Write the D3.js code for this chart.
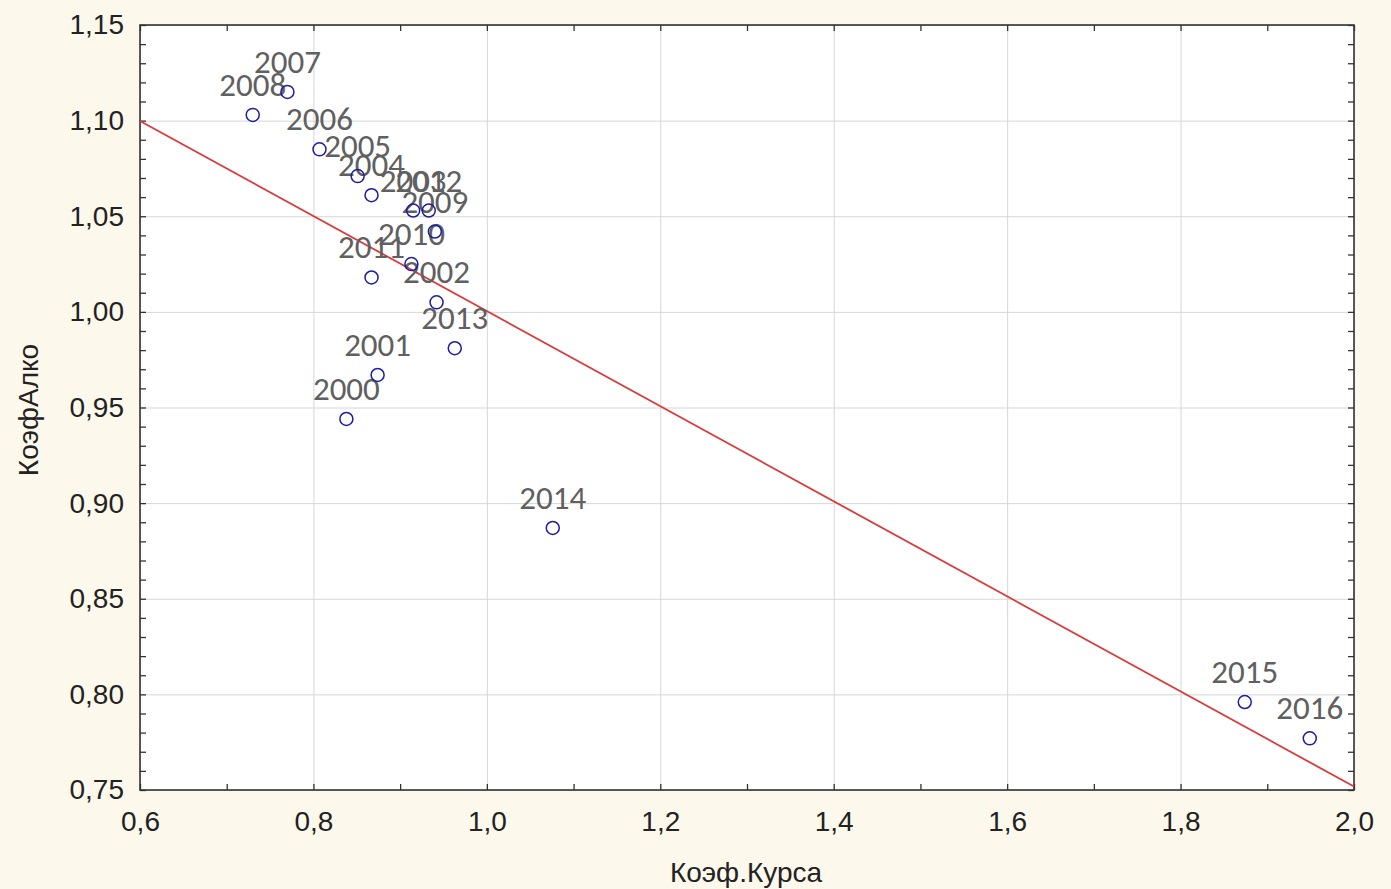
<!DOCTYPE html>
<html>
<head>
<meta charset="utf-8">
<script src="https://cdn.jsdelivr.net/npm/d3@7"></script>
<style>
	body { margin: 0; background: #fdf8ec; }
	.axis text { font-family: "Liberation Sans", Arial, sans-serif; font-size: 28px; fill: #222; }
</style>
</head>
<body>
<script>
			var w = 1391;
			var h = 889;
			var plotLeft = 140, plotRight = 1354, plotTop = 25, plotBottom = 790;

			//Data
			var years = ["2000","2001","2002","2003","2004","2005","2006","2007","2008",
				"2009","2010","2011","2012","2013","2014","2015","2016"];
			var koefKursa = [0.838, 0.874, 0.942, 0.915, 0.867, 0.851, 0.807, 0.770, 0.730,
				0.940, 0.913, 0.867, 0.933, 0.963, 1.076, 1.874, 1.949];
			var koefAlko = [0.944, 0.967, 1.005, 1.053, 1.061, 1.071, 1.085, 1.115, 1.103,
				1.042, 1.025, 1.018, 1.053, 0.981, 0.887, 0.796, 0.777];

			//Fitted line
			var fitIntercept = 1.249;
			var fitSlope = -0.2486;

			var xTickValues = [0.6, 0.8, 1.0, 1.2, 1.4, 1.6, 1.8, 2.0];
			var yTickValues = [0.75, 0.80, 0.85, 0.90, 0.95, 1.00, 1.05, 1.10, 1.15];
			var xMinorTicks = d3.range(6, 21).map(function(d) { return d / 10; });
			var yMinorTicks = d3.range(75, 116).map(function(d) { return d / 100; });

			var ru = d3.formatLocale({ decimal: ",", thousands: " ", grouping: [3], currency: ["", ""] });
			var fmtX = ru.format(".1f");
			var fmtY = ru.format(".2f");

			var xScale = d3.scaleLinear().domain([0.6, 2.0]).range([plotLeft, plotRight]);
			var yScale = d3.scaleLinear().domain([0.75, 1.15]).range([plotBottom, plotTop]);

			var svg = d3.select("body")
						.append("svg")
						.attr("width", w)
						.attr("height", h);

			svg.append("rect")
				.attr("width", w)
				.attr("height", h)
				.attr("fill", "#fdf8ec");

			//plot area
			svg.append("rect")
				.attr("x", plotLeft)
				.attr("y", plotTop)
				.attr("width", plotRight - plotLeft)
				.attr("height", plotBottom - plotTop)
				.attr("fill", "#ffffff");

			//Grid
			svg.append("g")
				.attr("class", "grid")
				.attr("transform", "translate(0," + plotBottom + ")")
				.call(d3.axisBottom(xScale).tickValues(xTickValues).tickSize(-(plotBottom - plotTop)).tickFormat(""));
			svg.append("g")
				.attr("class", "grid")
				.attr("transform", "translate(" + plotLeft + ",0)")
				.call(d3.axisLeft(yScale).tickValues(yTickValues).tickSize(-(plotRight - plotLeft)).tickFormat(""));
			svg.selectAll(".grid .domain").remove();
			svg.selectAll(".grid line").attr("stroke", "#d6d6d6").attr("stroke-width", 1);

			//inward ticks on all four sides
			var tickLen = 6;
			svg.append("g").attr("class", "ticks").attr("transform", "translate(0," + plotBottom + ")")
				.call(d3.axisBottom(xScale).tickValues(xMinorTicks).tickSize(-tickLen).tickFormat(""));
			svg.append("g").attr("class", "ticks").attr("transform", "translate(0," + plotTop + ")")
				.call(d3.axisTop(xScale).tickValues(xMinorTicks).tickSize(-tickLen).tickFormat(""));
			svg.append("g").attr("class", "ticks").attr("transform", "translate(" + plotLeft + ",0)")
				.call(d3.axisLeft(yScale).tickValues(yMinorTicks).tickSize(-tickLen).tickFormat(""));
			svg.append("g").attr("class", "ticks").attr("transform", "translate(" + plotRight + ",0)")
				.call(d3.axisRight(yScale).tickValues(yMinorTicks).tickSize(-tickLen).tickFormat(""));
			svg.selectAll(".ticks .domain").remove();
			svg.selectAll(".ticks line").attr("stroke", "#333").attr("stroke-width", 1.3);

			//Tick labels
			svg.append("g")
				.attr("class", "axis")
				.attr("transform", "translate(0," + plotBottom + ")")
				.call(d3.axisBottom(xScale).tickValues(xTickValues).tickSize(0).tickPadding(21).tickFormat(fmtX))
				.call(function(g) { g.select(".domain").remove(); });

			svg.append("g")
				.attr("class", "axis")
				.attr("transform", "translate(" + plotLeft + ",0)")
				.call(d3.axisLeft(yScale).tickValues(yTickValues).tickSize(0).tickPadding(16).tickFormat(fmtY))
				.call(function(g) { g.select(".domain").remove(); });

			//Frame
			svg.append("rect")
				.attr("x", plotLeft)
				.attr("y", plotTop)
				.attr("width", plotRight - plotLeft)
				.attr("height", plotBottom - plotTop)
				.attr("fill", "none")
				.attr("stroke", "#333")
				.attr("stroke-width", 1.6);

			//Regression line
			svg.append("line")
				.attr("x1", xScale(0.6))
				.attr("y1", yScale(fitIntercept + fitSlope * 0.6))
				.attr("x2", xScale(2.0))
				.attr("y2", yScale(fitIntercept + fitSlope * 2.0))
				.attr("stroke", "#dc3a3a")
				.attr("stroke-width", 1.8);

			var points = years.map(function(y, i) {
				return { year: y, x: koefKursa[i], y: koefAlko[i] };
			});

			//Labels
			svg.selectAll("text.year")
				.data(points)
				.enter()
				.append("text")
				.attr("class", "year")
				.attr("x", function(d) { return xScale(d.x); })
				.attr("y", function(d) { return yScale(d.y) - 19; })
				.attr("text-anchor", "middle")
				.attr("font-family", "Carlito, Lato, sans-serif")
				.attr("font-size", 33)
				.attr("fill", "#606060")
				.text(function(d) { return d.year; });

			//Points
			svg.selectAll("circle")
				.data(points)
				.enter()
				.append("circle")
				.attr("cx", function(d) { return xScale(d.x); })
				.attr("cy", function(d) { return yScale(d.y); })
				.attr("r", 6.5)
				.attr("fill", "none")
				.attr("stroke", "#1c1ca6")
				.attr("stroke-width", 1.5);

			//Axis titles
			svg.append("text")
				.attr("x", 746)
				.attr("y", 882)
				.attr("text-anchor", "middle")
				.attr("font-family", "Liberation Sans, Arial, sans-serif")
				.attr("font-size", 28)
				.attr("fill", "#222")
				.text("Коэф.Курса");

			svg.append("text")
				.attr("transform", "translate(38,410) rotate(-90)")
				.attr("text-anchor", "middle")
				.attr("font-family", "Liberation Sans, Arial, sans-serif")
				.attr("font-size", 28)
				.attr("fill", "#222")
				.text("КоэфАлко");
</script>
</body>
</html>
